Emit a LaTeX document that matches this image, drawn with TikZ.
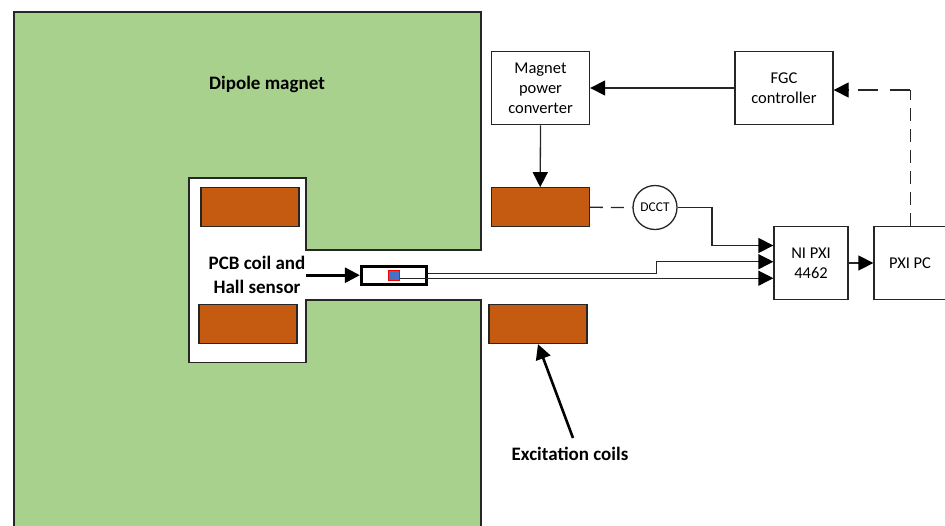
\documentclass[tikz,border=0pt]{standalone}
\usepackage{fontspec}
\setmainfont{Carlito}
\usetikzlibrary{arrows.meta,calc}
\definecolor{magnetgreen}{HTML}{A9D18E}
\definecolor{coilorange}{HTML}{C55A11}
\definecolor{hallblue}{HTML}{4472C4}
\definecolor{inkdark}{HTML}{262626}
\tikzset{
  boldlbl/.style={font=\fontsize{19}{24}\selectfont\bfseries,align=center,inner sep=0pt},
  blockbox/.style={draw=inkdark,line width=1.3pt,fill=white,minimum width=#1,inner sep=0pt,minimum height=73.5pt,align=center,font=\fontsize{16.5}{20}\selectfont},
  coilbox/.style={draw=inkdark,line width=1.3pt,fill=coilorange,minimum width=98pt,minimum height=39pt,inner sep=0pt},
  wire/.style={line width=1.3pt,draw=inkdark},
  arrowwire/.style={wire,-{Triangle[length=15pt,width=15pt,color=black]}},
  fatarrow/.style={line width=2.6pt,black,-{Triangle[length=15pt,width=15pt]}},
  dashwire/.style={wire,dash pattern=on 13pt off 8pt},
  longdash/.style={wire,dash pattern=on 20pt off 12pt},
}
\begin{document}
\begin{tikzpicture}[x=1pt,y=-1pt]
\useasboundingbox (0,0) rectangle (945,525);
\clip (0,0) rectangle (945,525);
% magnet yoke
\draw[draw=inkdark,line width=1.3pt,fill=magnetgreen]
  (14,530) -- (14,12) -- (481,12) -- (481,250) -- (306,250) -- (306,178) -- (189,178)
  -- (189,362.5) -- (306,362.5) -- (306,300) -- (481,300) -- (481,530);
% coils
\node[coilbox] (c1) at (250,207.3) {};
\node[coilbox] (c2) at (248,324) {};
\node[coilbox] (c3) at (540.2,207.3) {};
\node[coilbox] (c4) at (538,324) {};
% blocks
\node[blockbox=98pt] (mpc) at (540.5,88) {Magnet\\power\\converter};
\node[blockbox=98pt] (fgc) at (784,88) {FGC\\controller};
\node[blockbox=74pt] (ni) at (811,263) {NI PXI\\4462};
\node[blockbox=72pt] (pc) at (910,263) {PXI PC};
\node[draw=inkdark,line width=1.3pt,circle,fill=white,minimum size=44pt,inner sep=0pt,font=\fontsize{13.4}{14}\selectfont] (dcct) at (655,207.5) {DCCT};
% sensor
\node[draw=black,line width=3.2pt,fill=white,minimum width=65pt,minimum height=18pt,inner sep=0pt] (probe) at (394,275.2) {};
\node[draw=red,line width=1.2pt,fill=hallblue,minimum width=11pt,minimum height=10pt,inner sep=0pt] (hall) at (394,275.3) {};
% labels
\node[boldlbl] (tdip) at (267,84) {Dipole magnet};
\node[boldlbl] (tpcb) at (257,275) {PCB coil and\\Hall sensor};
\node[boldlbl] (texc) at (570,454) {Excitation coils};
% connector anchors
\coordinate (a1) at (ni.west |- 0,245.5);
\coordinate (a2) at (ni.west |- 0,261.7);
\coordinate (a3) at (ni.west |- 0,278.2);
\coordinate (p1) at (probe.east |- 0,273.7);
\coordinate (h1) at (hall.east |- a3);
\coordinate (s1) at (306,275.2);
\coordinate (e1) at (573,438);
\coordinate (bend) at (910.3,90);
\coordinate (dashend) at (857,90);
\coordinate (tipstart) at (848,90);
% connectors
\draw[arrowwire] (fgc.west) -- (mpc.east);
\draw[arrowwire] (mpc.south) -- (c3.north);
\draw[dashwire] (pc.north -| bend) -- (bend);
\draw[longdash] (bend) -- (dashend);
\draw[wire,-{Triangle[length=15pt,width=15pt,color=black]}] (tipstart) -- (fgc.east |- tipstart);
\draw[dashwire] (c3.east) -- (dcct.west);
\draw[arrowwire] (dcct.east) -- (712,207.5) -- (712,245.5) -- (a1);
\draw[arrowwire] (p1) -- (656.7,273.7) -- (656.7,261.7) -- (a2);
\draw[arrowwire] (h1) -- (a3);
\draw[arrowwire] (ni.east) -- (pc.west);
\draw[fatarrow] (s1) -- (probe.west);
\draw[fatarrow] (e1) -- (c4.south);
\end{tikzpicture}
\end{document}
